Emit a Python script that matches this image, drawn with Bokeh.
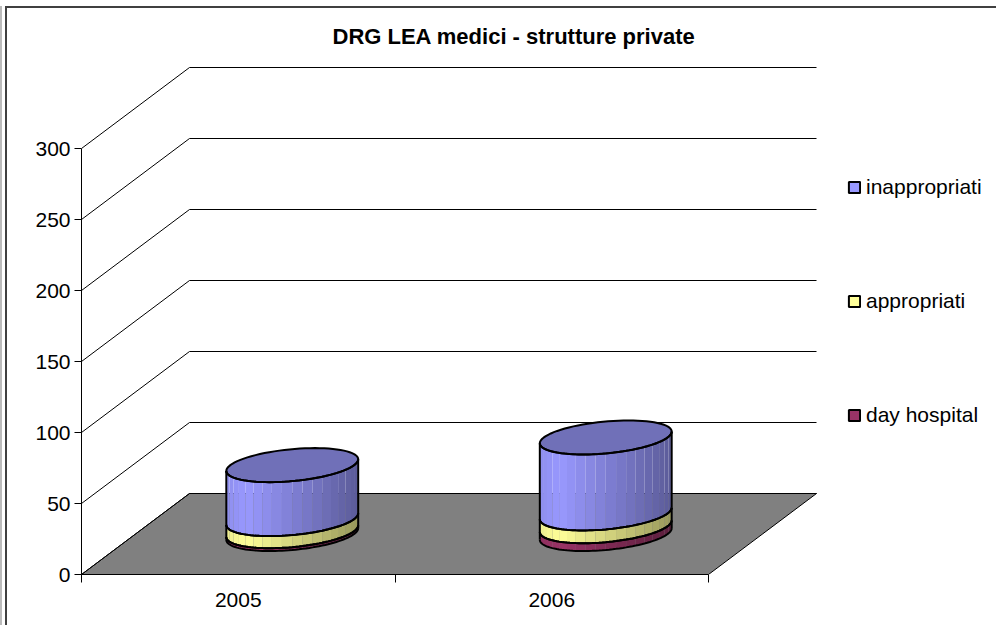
import math
from bokeh.embed import file_html
from bokeh.resources import INLINE
from bokeh.plotting import figure
from bokeh.models import (ColumnDataSource, FixedTicker, Legend, LegendItem, Range1d)

# ---- data ----
years = ["2005", "2006"]
day_hospital = [2, 5.5]
appropriati = [8.5, 9]
inappropriati = [38, 53.5]
value_ticks = [0, 50, 100, 150, 200, 250, 300]
series_names = ["inappropriati", "appropriati", "day hospital"]

# ---- style ----
FONT = "Liberation Sans"
BASE = {"day": (0x99, 0x33, 0x66), "app": (0xFF, 0xFF, 0x99), "ina": (0x99, 0x99, 0xFF)}
TOP_COLOR = "#7070B8"
FLOOR = "#808080"

# pixel layout (relative to canvas)
CANVAS_W, CANVAS_H = 990, 617
LEFT, TOP = 74, 43        # frame corner on canvas
PX_CAT = 313.5            # px per category
PX_VAL = 426 / 300        # px per value unit
FRAME_W, FRAME_H = 915, 523
DEPTH_X = 108 / PX_CAT    # depth vector in data units
DEPTH_Y = 81 / PX_VAL
BAR_W = 0.395
BAR_D = 0.42
N_STRIPS = 20

p = figure(width=CANVAS_W, height=CANVAS_H, output_backend="svg", toolbar_location=None,
           frame_width=FRAME_W, frame_height=FRAME_H,
           x_range=Range1d(0, FRAME_W / PX_CAT), y_range=Range1d(0, FRAME_H / PX_VAL),
           min_border_left=LEFT, min_border_right=0,
           min_border_top=TOP, min_border_bottom=CANVAS_H - TOP - FRAME_H,
           margin=(6, 0, 0, 5), background_fill_color="white",
           border_fill_color="white",
           styles={"border-left": "2px solid #404040", "border-top": "2px solid #404040",
                   "box-shadow": "-3px 0 0 0 #ffffff, -5px 0 0 0 #bbbbbb"})
p.outline_line_color = None
p.grid.visible = False

# title
p.title.text = "DRG LEA medici - strutture private"
p.title.text_font = FONT
p.title.text_font_size = "22px"
p.title.text_font_style = "bold"
p.title.text_color = "black"
p.title.align = "left"
p.title.offset = 251
p.title.standoff = 5

# axes
xa = p.xaxis[0]
xa.bounds = (0, 2)
xa.ticker = FixedTicker(ticks=[0.5, 1.5], minor_ticks=[0, 1, 2])
xa.major_label_overrides = {0.5: years[0], 1.5: years[1]}
xa.major_tick_line_color = None
xa.major_tick_out = 0
xa.major_tick_in = 0
xa.minor_tick_out = 8
xa.minor_tick_in = 0
xa.minor_tick_line_color = "black"
xa.axis_line_color = "black"
xa.major_label_text_font = FONT
xa.major_label_text_font_size = "21px"
xa.major_label_text_color = "black"
xa.major_label_standoff = 10

ya = p.yaxis[0]
ya.bounds = (0, 300)
ya.ticker = FixedTicker(ticks=value_ticks)
ya.minor_tick_line_color = None
ya.major_tick_out = 7
ya.major_tick_in = 0
ya.major_tick_line_color = "black"
ya.axis_line_color = "black"
ya.major_label_text_font = FONT
ya.major_label_text_font_size = "21px"
ya.major_label_text_color = "black"
ya.major_label_standoff = 4

# floor and walls
p.patch([0, 2, 2 + DEPTH_X, DEPTH_X], [0, 0, DEPTH_Y, DEPTH_Y],
        fill_color=FLOOR, line_color="black", line_width=1)
wall_x = [[0, DEPTH_X, 2 + DEPTH_X] for v in value_ticks]
wall_y = [[v, v + DEPTH_Y, v + DEPTH_Y] for v in value_ticks]
p.multi_line(wall_x, wall_y, line_color="black", line_width=1)

# cylinders
ax = BAR_W / 2
bx = BAR_D * DEPTH_X / 2
by = BAR_D * DEPTH_Y / 2
t_right = math.atan2(bx, ax)
t_left = t_right + math.pi
t_end = t_right + 2 * math.pi


def ell(xc, vc, t):
    return xc + ax * math.cos(t) + bx * math.sin(t), vc + DEPTH_Y / 2 + by * math.sin(t)


def arc(xc, v, t0, t1, n=6):
    pts = [ell(xc, v, t0 + (t1 - t0) * k / n) for k in range(n + 1)]
    return [q[0] for q in pts], [q[1] for q in pts]


def shade(rgb, f):
    if f < 0.15:
        s = 0.93 + 0.07 * f / 0.15
    else:
        s = 1.0 - 0.4 * (f - 0.15) / 0.85
    return "#%02x%02x%02x" % tuple(int(c * s) for c in rgb)


half_span = math.hypot(ax, bx)
strips = dict(xs=[], ys=[], color=[])
line_x, line_y = [], []
tops_x, tops_y = [], []
for i in range(len(years)):
    xc = i + 0.5 + DEPTH_X / 2
    levels = [0, day_hospital[i], day_hospital[i] + appropriati[i],
              day_hospital[i] + appropriati[i] + inappropriati[i]]
    for (v0, v1, key) in zip(levels[:-1], levels[1:], ["day", "app", "ina"]):
        for k in range(N_STRIPS):
            a0 = t_left + (t_end - t_left) * k / N_STRIPS
            a1 = t_left + (t_end - t_left) * (k + 1) / N_STRIPS
            lx, ly = arc(xc, v0, a0, a1, 3)
            ux, uy = arc(xc, v1, a0, a1, 3)
            strips["xs"].append(lx + ux[::-1])
            strips["ys"].append(ly + uy[::-1])
            xm = 0.5 * (lx[0] + lx[-1])
            strips["color"].append(shade(BASE[key], (xm - (xc - half_span)) / (2 * half_span)))
        bx_, by_ = arc(xc, v0, t_left, t_end, 60)
        ux_, uy_ = arc(xc, v1, t_left, t_end, 60)
        line_x.append(bx_)
        line_y.append(by_)
        line_x.append(ux_)
        line_y.append(uy_)
        line_x.append([bx_[0], ux_[0]])
        line_y.append([by_[0], uy_[0]])
        line_x.append([bx_[-1], ux_[-1]])
        line_y.append([by_[-1], uy_[-1]])
    tx, ty = arc(xc, levels[-1], 0, 2 * math.pi, 80)
    tops_x.append(tx)
    tops_y.append(ty)

p.patches("xs", "ys", source=ColumnDataSource(strips), fill_color="color", line_color=None)
p.patches(tops_x, tops_y, fill_color=TOP_COLOR, line_color=None)
p.multi_line(line_x, line_y, line_color="black", line_width=2)
p.multi_line(tops_x, tops_y, line_color="black", line_width=2)

# legend
swatch = {}
nan = float("nan")
for name, key in zip(series_names, ["ina", "app", "day"]):
    swatch[name] = p.quad(left=[nan], right=[nan], top=[nan], bottom=[nan],
                          fill_color="#%02x%02x%02x" % BASE[key],
                          line_color="black", line_width=2)
legend = Legend(items=[LegendItem(label=n, renderers=[swatch[n]]) for n in series_names],
                location=(847 - 81, 147),
                border_line_color=None, background_fill_alpha=0,
                padding=0, margin=0, spacing=90,
                glyph_width=14, glyph_height=14, label_height=20, label_standoff=5,
                label_text_font=FONT, label_text_font_size="21px", label_text_color="black")
p.add_layout(legend, "center")

open("out.html", "w").write(file_html(p, INLINE))
